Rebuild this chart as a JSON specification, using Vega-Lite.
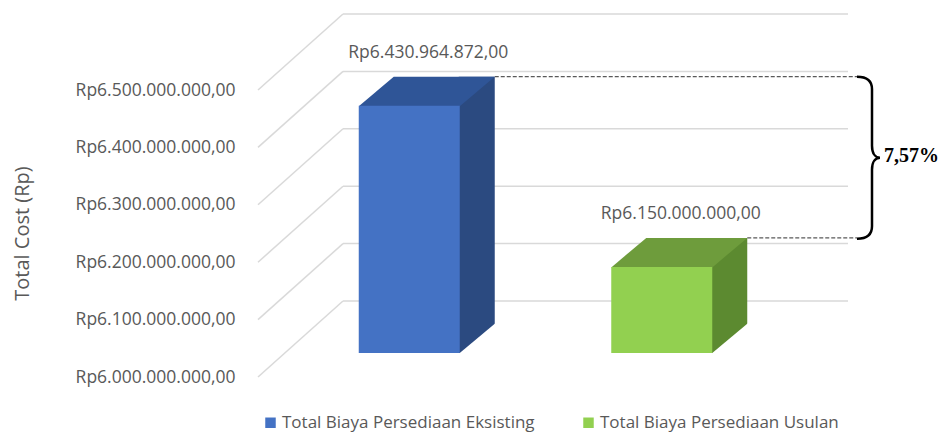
{
  "$schema": "https://vega.github.io/schema/vega-lite/v6.json",
  "autosize": "none",
  "width": 505,
  "height": 287,
  "padding": {"left": 258, "top": 90, "right": 180, "bottom": 57},
  "background": "white",
  "config": {
    "view": {"stroke": null}
  },
  "datasets": {
    "bars": [
      {"kategori": "Total Biaya Persediaan Eksisting", "biaya": 6430964872},
      {"kategori": "Total Biaya Persediaan Usulan", "biaya": 6150000000}
    ],
    "ticks": [
      {"nilai": 6000000000},
      {"nilai": 6100000000},
      {"nilai": 6200000000},
      {"nilai": 6300000000},
      {"nilai": 6400000000},
      {"nilai": 6500000000}
    ]
  },
  "layer": [
    {
      "data": {"name": "ticks"},
      "mark": {"type": "rule", "color": "#D9D9D9", "strokeWidth": 1.5, "xOffset": 85, "x2Offset": 85, "yOffset": -76},
      "encoding": {
        "x": {"value": 0},
        "x2": {"value": "width"},
        "y": {
          "field": "nilai", "type": "quantitative",
          "scale": {"domain": [6000000000, 6500000000], "nice": false, "zero": false},
          "axis": {
            "values": [6000000000, 6100000000, 6200000000, 6300000000, 6400000000, 6500000000],
            "labelExpr": "'Rp' + replace(replace(replace(format(datum.value, ',.2f'), '.', '|'), regexp(',', 'g'), '.'), '|', ',')",
            "grid": false, "domain": false, "ticks": false,
            "labelPadding": 23, "labelFlush": false, "labelFont": "Open Sans", "labelFontSize": 17.5, "labelColor": "#595959",
            "title": "Total Cost (Rp)", "titleFont": "Open Sans", "titleFontSize": 20, "titleFontWeight": "normal", "titleColor": "#595959",
            "titleX": -236, "titleY": 143, "titleAlign": "center", "titleBaseline": "middle", "titleAngle": -90
          }
        }
      }
    },
    {
      "data": {"name": "ticks"},
      "mark": {"type": "rule", "color": "#D9D9D9", "strokeWidth": 1.5, "x2Offset": 85, "y2Offset": -76},
      "encoding": {
        "x": {"value": 0},
        "x2": {"value": 0},
        "y": {"field": "nilai", "type": "quantitative"},
        "y2": {"field": "nilai"}
      }
    },
    {
      "data": {"name": "bars"},
      "mark": {"type": "rule", "color": "#595959", "strokeWidth": 1.2, "strokeDash": [4, 2], "xOffset": 110.5, "x2Offset": 94, "yOffset": -53},
      "encoding": {
        "x": {"field": "kategori", "type": "nominal", "axis": null},
        "x2": {"value": "width"},
        "y": {"field": "biaya", "type": "quantitative"}
      }
    },
    {
      "data": {"name": "bars"},
      "mark": {"type": "bar", "width": 36, "xOffset": 92.5, "yOffset": -53, "y2Offset": -24},
      "encoding": {
        "x": {"field": "kategori", "type": "nominal", "axis": null},
        "y": {"field": "biaya", "type": "quantitative"},
        "y2": {"datum": 6000000000},
        "color": {"condition": {"test": "datum.kategori === 'Total Biaya Persediaan Eksisting'", "value": "#2B4A80"}, "value": "#5C8A30"}
      }
    },
    {
      "data": {"name": "bars"},
      "mark": {"type": "point", "filled": true, "opacity": 1, "strokeWidth": 0, "size": 40000, "xOffset": 25, "yOffset": -24, "shape": "M 0.493 0.01 L 0.9 0.01 L 0.9 -0.33 Z", "color": "white"},
      "encoding": {
        "x": {"field": "kategori", "type": "nominal", "axis": null},
        "y": {"datum": 6000000000}
      }
    },
    {
      "data": {"name": "bars"},
      "mark": {"type": "point", "filled": true, "opacity": 1, "strokeWidth": 0, "size": 40000, "xOffset": 25, "yOffset": -24, "shape": "M -0.505 0.005 L 0.505 0.005 L 0.855 -0.29 L -0.155 -0.29 Z"},
      "encoding": {
        "x": {"field": "kategori", "type": "nominal", "axis": null},
        "y": {"field": "biaya", "type": "quantitative"},
        "color": {"condition": {"test": "datum.kategori === 'Total Biaya Persediaan Eksisting'", "value": "#2F5597"}, "value": "#6E9C3C"}
      }
    },
    {
      "data": {"name": "bars"},
      "mark": {"type": "bar", "xOffset": 25, "yOffset": -24, "y2Offset": -24},
      "encoding": {
        "x": {"field": "kategori", "type": "nominal", "axis": null, "scale": {"type": "band", "paddingInner": 0.6, "paddingOuter": 0.3}},
        "y": {"field": "biaya", "type": "quantitative"},
        "y2": {"datum": 6000000000},
        "color": {
          "field": "kategori", "type": "nominal",
          "scale": {"range": ["#4472C4", "#92D050"]},
          "legend": {
            "title": null, "orient": "none", "legendX": 4, "legendY": 324, "direction": "horizontal", "columns": 2,
            "symbolType": "square", "symbolSize": 110, "symbolStrokeWidth": 0, "labelFont": "Open Sans", "labelFontSize": 17,
            "labelColor": "#595959", "labelLimit": 400, "columnPadding": 45, "labelOffset": 3
          }
        }
      }
    },
    {
      "data": {"name": "bars"},
      "transform": [
        {"calculate": "'Rp' + replace(replace(replace(format(datum.biaya, ',.2f'), '.', '|'), regexp(',', 'g'), '.'), '|', ',')", "as": "label"}
      ],
      "mark": {"type": "text", "font": "Open Sans", "fontSize": 17.5, "color": "#595959", "xOffset": 44, "yOffset": -77, "baseline": "middle"},
      "encoding": {
        "x": {"field": "kategori", "type": "nominal", "axis": null},
        "y": {"field": "biaya", "type": "quantitative"},
        "text": {"field": "label", "type": "nominal"}
      }
    },
    {
      "data": {"name": "bars"},
      "transform": [{"filter": "datum.kategori === 'Total Biaya Persediaan Eksisting'"}],
      "mark": {"type": "point", "filled": false, "opacity": 1, "stroke": "black", "strokeWidth": 2.5, "size": 40000, "xOffset": 105.5, "yOffset": -53,
        "shape": "M -0.115 0 C -0.03 0 0.035 0.025 0.035 0.125 L 0.035 0.69 C 0.035 0.77 0.07 0.81 0.115 0.81 C 0.07 0.81 0.035 0.85 0.035 0.93 L 0.035 1.495 C 0.035 1.595 -0.03 1.62 -0.115 1.62"},
      "encoding": {
        "x": {"value": "width"},
        "y": {"field": "biaya", "type": "quantitative"}
      }
    },
    {
      "data": {"name": "bars"},
      "transform": [{"filter": "datum.kategori === 'Total Biaya Persediaan Eksisting'"}],
      "mark": {"type": "text", "font": "Liberation Serif", "fontWeight": "bold", "fontSize": 20, "color": "black", "align": "left", "baseline": "middle", "xOffset": 121, "yOffset": 26},
      "encoding": {
        "x": {"value": "width"},
        "y": {"field": "biaya", "type": "quantitative"},
        "text": {"value": "7,57%"}
      }
    }
  ]
}
